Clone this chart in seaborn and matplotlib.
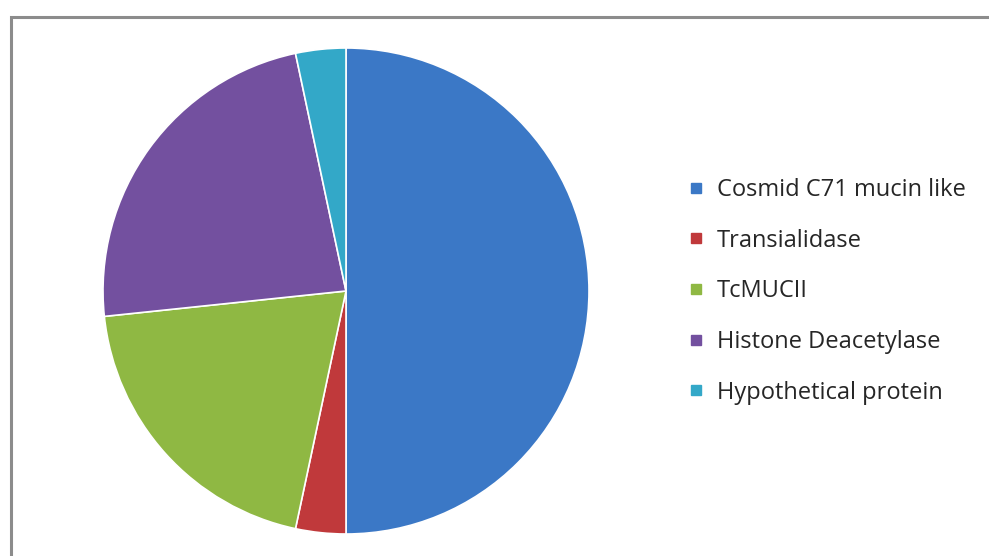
import matplotlib.pyplot as plt
import seaborn as sns
from matplotlib.lines import Line2D
from matplotlib.patches import Rectangle

# proteins and counts (15/30 = half, etc.)
labels = [
    "Cosmid C71 mucin like",
    "Transialidase",
    "TcMUCII",
    "Histone Deacetylase",
    "Hypothetical protein",
]
counts = [15, 1, 6, 7, 1]
colors = ["#3b78c6", "#c0393b", "#8fb843", "#73509f", "#33a8c8"]


def main():
    sns.set_theme(style="white")
    plt.rcParams["font.family"] = ["Open Sans", "DejaVu Sans"]

    fig = plt.figure(figsize=(9.89, 5.56), dpi=100)
    palette = sns.color_palette(colors)

    # pie centred at ~(346, 291) px, radius ~243 px
    cx, cy, r = 346, 291, 243
    ax = fig.add_axes([(cx - r) / 989, (556 - cy - r) / 556, 2 * r / 989, 2 * r / 556])
    ax.pie(
        counts,
        colors=palette,
        startangle=90,
        counterclock=False,
        radius=1,
        wedgeprops=dict(edgecolor="white", linewidth=1.2),
    )
    ax.set_xlim(-1, 1)
    ax.set_ylim(-1, 1)
    ax.set_aspect("equal")
    ax.axis("off")

    handles = [
        Line2D([], [], marker="s", linestyle="", markersize=6.8,
               markerfacecolor=c, markeredgecolor=c)
        for c in palette
    ]
    fig.legend(
        handles, labels,
        loc="upper left",
        bbox_to_anchor=(687 / 989, 1 - 178 / 556),
        frameon=False,
        fontsize=17,
        handlelength=0.75,
        handletextpad=0.52,
        labelspacing=1.13,
        borderpad=0,
        borderaxespad=0,
    )

    # grey frame, only top and left edges fall inside the picture
    fig.patches.append(Rectangle(
        (10.5 / 989, -0.1), 1.2, (556 - 16.5) / 556 + 0.1,
        transform=fig.transFigure, fill=False,
        edgecolor="#8c8c8c", linewidth=2.2,
    ))

    fig.savefig("out.png", dpi=100)
    plt.close(fig)


if __name__ == "__main__":
    main()
